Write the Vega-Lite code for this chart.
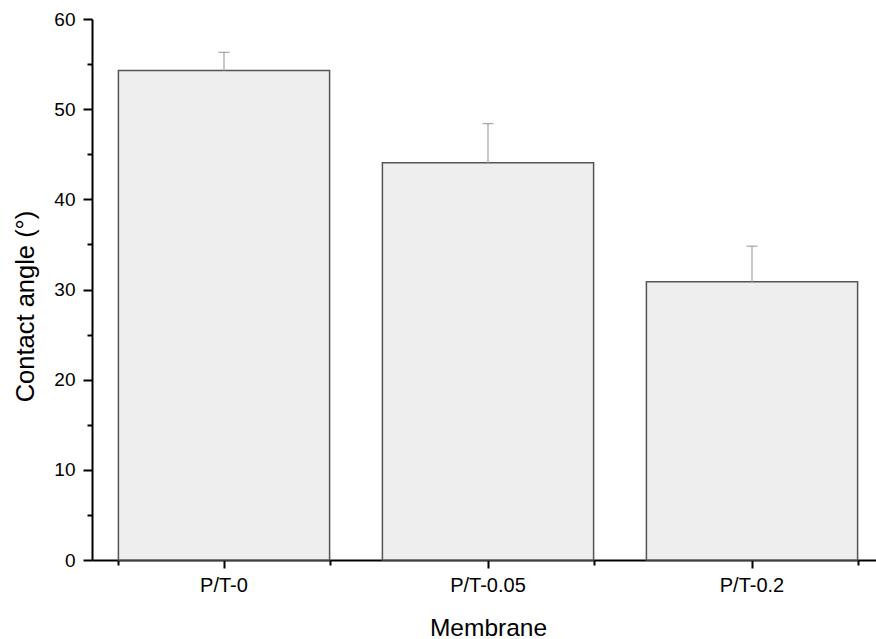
{
  "$schema": "https://vega.github.io/schema/vega-lite/v6.json",
  "autosize": "none",
  "width": 784,
  "height": 541,
  "padding": {"left": 92, "top": 19, "right": 0, "bottom": 79},
  "background": "white",
  "config": {
    "view": {"stroke": null},
    "font": "Liberation Sans",
    "axis": {"grid": false, "domainColor": "black", "tickColor": "black", "labelColor": "black", "titleColor": "black", "labelFont": "Liberation Sans", "titleFont": "Liberation Sans", "titleFontWeight": "normal"}
  },
  "data": {"values": [
    {"membrane": "P/T-0", "angle": 54.3, "hi": 56.3},
    {"membrane": "P/T-0.05", "angle": 44.05, "hi": 48.4},
    {"membrane": "P/T-0.2", "angle": 30.85, "hi": 34.8}
  ]},
  "resolve": {"axis": {"x": "independent", "y": "independent"}},
  "layer": [
    {
      "mark": {"type": "bar", "fill": "#eeeeee", "stroke": "#555555", "strokeWidth": 1.5},
      "encoding": {
        "x": {"field": "membrane", "type": "nominal", "sort": null,
          "scale": {"range": [0, 792], "paddingInner": 0.2, "paddingOuter": 0.1},
          "axis": {"orient": "bottom", "title": "Membrane", "titleFontSize": 24.5, "titlePadding": 21, "labelFontSize": 20, "labelPadding": 7, "labelAngle": 0, "tickSize": 8, "tickWidth": 2, "domainWidth": 2}},
        "y": {"field": "angle", "type": "quantitative",
          "scale": {"domain": [0, 60], "nice": false},
          "axis": {"orient": "left", "title": "Contact angle (°)", "titleFontSize": 25.5, "titlePadding": 15, "titleY": 287, "labelFontSize": 19, "labelPadding": 8, "values": [0, 10, 20, 30, 40, 50, 60], "tickSize": 9, "tickWidth": 2, "domainWidth": 2}}
      }
    },
    {
      "mark": {"type": "rule", "color": "#aaaaaa", "strokeWidth": 1.3},
      "encoding": {
        "x": {"field": "membrane", "type": "nominal", "sort": null,
          "axis": {"orient": "bottom", "title": null, "labels": false, "domain": false, "tickBand": "extent", "tickSize": 5, "tickWidth": 2}},
        "y": {"field": "angle", "type": "quantitative",
          "axis": {"orient": "left", "title": null, "labels": false, "domain": false, "values": [5, 15, 25, 35, 45, 55], "tickSize": 5, "tickWidth": 2}},
        "y2": {"field": "hi"}
      }
    },
    {
      "mark": {"type": "tick", "color": "#888888", "thickness": 1.3, "size": 11},
      "encoding": {
        "x": {"field": "membrane", "type": "nominal", "sort": null, "axis": null},
        "y": {"field": "hi", "type": "quantitative", "axis": null}
      }
    }
  ]
}
